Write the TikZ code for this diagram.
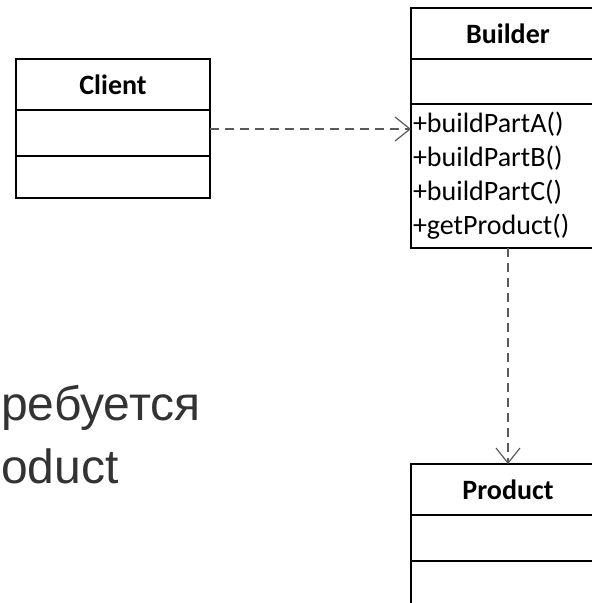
\documentclass[tikz,border=0pt]{standalone}
\usepackage{fontspec}
\newfontfamily\umlfont{Carlito}
\newfontfamily\slidefont{Liberation Sans}
\usetikzlibrary{arrows.meta}
\definecolor{slidegray}{HTML}{333333}
\definecolor{depgray}{HTML}{5A5A5A}
\begin{document}
\begin{tikzpicture}[x=1pt,y=-1pt,
  comp/.style={draw=black, line width=2pt, minimum width=194pt, inner sep=0pt,
    outer sep=0pt, anchor=north west, font=\umlfont\fontsize{28}{34}\selectfont},
  hdr/.style={comp, minimum height=51pt, font=\umlfont\bfseries\fontsize{28}{34}\selectfont},
  ops/.style={comp, align=left, text width=190pt, inner xsep=2pt},
  dep/.style={draw=depgray, line width=1.3pt, dash pattern=on 9pt off 6pt,
    -{Straight Barb[length=15pt, width=24pt, line width=1.2pt]}},
  slide/.style={anchor=base west, inner sep=0pt, text=slidegray,
    font=\slidefont\fontsize{48}{58}\selectfont}]
\useasboundingbox (0,0) rectangle (592,603);
\clip (0,0) rectangle (592,603);
\fill[white] (0,0) rectangle (592,603);

% slide text at the left edge
\node[slide] (line1) at (1,420) {ребуется};
\node[slide] (line2) at (1,483) {oduct};

% Client class
\node[hdr] (cHead) at (16,59) {Client};
\node[comp, minimum height=46pt] (cAttr) at (cHead.south west) {};
\node[comp, minimum height=42pt] (cOps) at (cAttr.south west) {};

% Builder class
\node[hdr] (bHead) at (411,8) {Builder};
\node[comp, minimum height=45pt] (bAttr) at (bHead.south west) {};
\node[ops, minimum height=144pt] (bOps) at (bAttr.south west)
  {+buildPartA()\\+buildPartB()\\+buildPartC()\\+getProduct()};

% Product class
\node[hdr] (pHead) at (411,464) {Product};
\node[comp, minimum height=46pt] (pAttr) at (pHead.south west) {};
\node[comp, minimum height=60pt] (pOps) at (pAttr.south west) {};

% dependencies
\draw[dep] ([yshift=4pt]cAttr.east) -- ([yshift=4pt]cAttr.east -| bOps.west);
\draw[dep] (bOps.south) -- (pHead.north);
\end{tikzpicture}
\end{document}
